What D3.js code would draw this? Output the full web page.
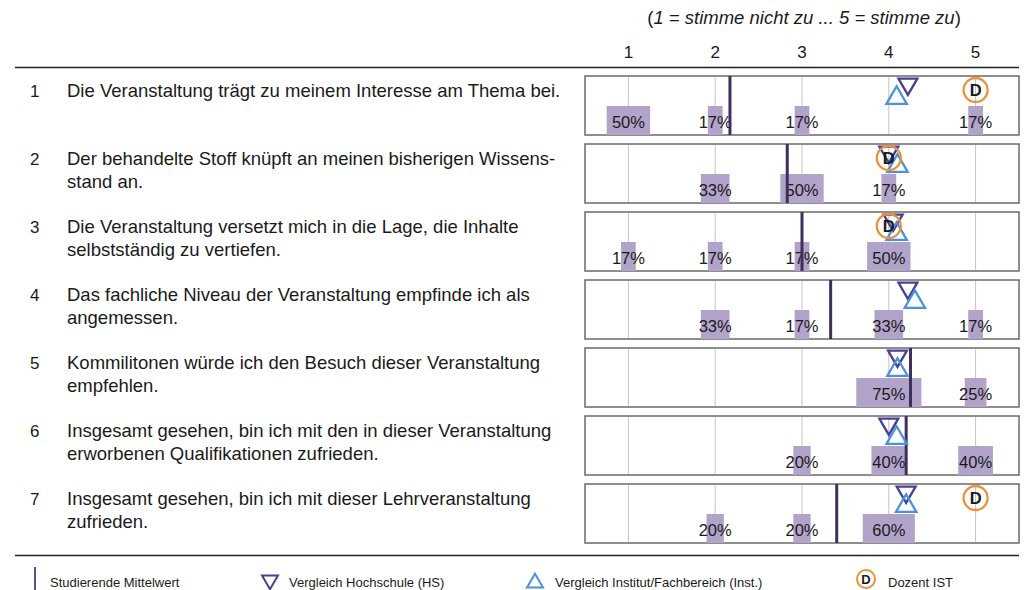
<!DOCTYPE html>
<html>
<head>
<meta charset="utf-8">
<script src="https://cdn.jsdelivr.net/npm/d3@7"></script>
<style>
  body { margin: 0; background: #fff; }
  text { font-family: "Liberation Sans", Arial, Helvetica, sans-serif; fill: #1a1a1a; }
</style>
</head>
<body>
<svg id="chart" width="1029" height="590"></svg>
<script>
// Fragen (jede Zeile = ein Item)
let fragen = [
    ["Die Veranstaltung trägt zu meinem Interesse am Thema bei."],
    ["Der behandelte Stoff knüpft an meinen bisherigen Wissens-", "stand an."],
    ["Die Veranstaltung versetzt mich in die Lage, die Inhalte", "selbstständig zu vertiefen."],
    ["Das fachliche Niveau der Veranstaltung empfinde ich als", "angemessen."],
    ["Kommilitonen würde ich den Besuch dieser Veranstaltung", "empfehlen."],
    ["Insgesamt gesehen, bin ich mit den in dieser Veranstaltung", "erworbenen Qualifikationen zufrieden."],
    ["Insgesamt gesehen, bin ich mit dieser Lehrveranstaltung", "zufrieden."]
];
let skala = [1, 2, 3, 4, 5]; // tick labels
// Verteilung in Prozent je Stufe 1..5
let prozente = [
    [50, 17, 17, 0, 17],
    [0, 33, 50, 17, 0],
    [17, 17, 17, 50, 0],
    [0, 33, 17, 33, 17],
    [0, 0, 0, 75, 25],
    [0, 0, 20, 40, 40],
    [0, 20, 20, 60, 0]
];
let mittelwert = [2.17, 2.83, 3.0, 3.33, 4.25, 4.2, 3.4];
let hochschule = [4.22, 4.0, 4.05, 4.22, 4.1, 4.0, 4.2];
let institut = [4.09, 4.1, 4.09, 4.3, 4.1, 4.09, 4.2];
let dozent = [5, 4.0, 4.0, null, null, null, 5];

let svg = d3.select("#chart");
let left = 585, right = 1019;
let top0 = 76, pitch = 68, panelH = 59;

let x = d3.scaleLinear().domain([0.5, 5.5]).range([left, right]);
let step = x(1) - x(0);

let cBar = "#b2a3ca", cMean = "#3e2f5c", cHS = "#4b3f8f", cInst = "#4a92dc", cDoz = "#ee8f3a";

// Kopf
let head = svg.append("text")
    .attr("x", 804).attr("y", 24)
    .attr("text-anchor", "middle")
    .style("font-size", "18.5px");
head.append("tspan").text("(");
head.append("tspan").style("font-style", "italic").text("1 = stimme nicht zu ... 5 = stimme zu");
head.append("tspan").text(")");

svg.selectAll(".tick-lbl")
    .data(skala)
    .enter()
    .append("text")
    .attr("class", "tick-lbl")
    .attr("x", d => x(d))
    .attr("y", 58)
    .attr("text-anchor", "middle")
    .style("font-size", "17px")
    .text(d => d);

svg.append("line")
    .attr("x1", 15).attr("x2", right)
    .attr("y1", 67.5).attr("y2", 67.5)
    .attr("stroke", "#222").attr("stroke-width", 1.3);

svg.append("line")
    .attr("x1", 15).attr("x2", right)
    .attr("y1", 555.5).attr("y2", 555.5)
    .attr("stroke", "#222").attr("stroke-width", 1.3);

let triUp = d3.symbol().type(d3.symbolTriangle).size(180);
let triDown = d3.symbol().type(d3.symbolTriangle).size(155);

fragen.forEach(function(lines, i) {
    let y0 = top0 + i * pitch;
    let g = svg.append("g");

    // Frage
    g.append("text")
        .attr("x", 30).attr("y", y0 + 21)
        .style("font-size", "17px")
        .text(i + 1);
    g.selectAll(".q")
        .data(lines)
        .enter()
        .append("text")
        .attr("class", "q")
        .attr("x", 67)
        .attr("y", (d, k) => y0 + 21 + k * 23)
        .style("font-size", "18.5px")
        .text(d => d);

    // Rahmen
    g.append("rect")
        .attr("x", left).attr("y", y0)
        .attr("width", right - left).attr("height", panelH)
        .attr("fill", "#fff")
        .attr("stroke", "#6a6a6a").attr("stroke-width", 1.5);

    // Gitter
    g.selectAll(".grid")
        .data(skala)
        .enter()
        .append("line")
        .attr("x1", d => x(d)).attr("x2", d => x(d))
        .attr("y1", y0 + 1).attr("y2", y0 + panelH - 1)
        .attr("stroke", "#c4c4c4").attr("stroke-width", 1);

    let bars = skala.map((s, k) => ({s: s, p: prozente[i][k]})).filter(d => d.p > 0);

    g.selectAll(".bar")
        .data(bars)
        .enter()
        .append("rect")
        .attr("x", d => x(d.s) - d.p / 100 * step / 2)
        .attr("y", y0 + panelH - 29)
        .attr("width", d => d.p / 100 * step)
        .attr("height", 29)
        .attr("fill", cBar);

    g.selectAll(".pct")
        .data(bars)
        .enter()
        .append("text")
        .attr("x", d => x(d.s))
        .attr("y", y0 + panelH - 7)
        .attr("text-anchor", "middle")
        .style("font-size", "16.5px")
        .text(d => d.p + "%");

    // Mittelwert
    g.append("line")
        .attr("x1", x(mittelwert[i])).attr("x2", x(mittelwert[i]))
        .attr("y1", y0).attr("y2", y0 + panelH)
        .attr("stroke", cMean).attr("stroke-width", 3);

    // Vergleich HS (Dreieck unten)
    g.append("path")
        .attr("d", triDown)
        .attr("transform", "translate(" + x(hochschule[i]) + "," + (y0 + 8) + ") rotate(180)")
        .attr("fill", "none").attr("stroke", cHS).attr("stroke-width", 2.3);

    // Vergleich Inst. (Dreieck oben)
    g.append("path")
        .attr("d", triUp)
        .attr("transform", "translate(" + x(institut[i]) + "," + (y0 + 22) + ")")
        .attr("fill", "none").attr("stroke", cInst).attr("stroke-width", 2.3);

    // Dozent
    if (dozent[i] != null) {
        g.append("circle")
            .attr("cx", x(dozent[i])).attr("cy", y0 + 14)
            .attr("r", 12)
            .attr("fill", "none").attr("stroke", cDoz).attr("stroke-width", 2.3);
        g.append("text")
            .attr("x", x(dozent[i])).attr("y", y0 + 20)
            .attr("text-anchor", "middle")
            .style("font-size", "16.5px").style("font-weight", "bold")
            .text("D");
    }
});

// Legende
let ly = 582;
svg.append("line")
    .attr("x1", 35).attr("x2", 35)
    .attr("y1", 567).attr("y2", 591)
    .attr("stroke", "#5e4f7e").attr("stroke-width", 2);
svg.append("path")
    .attr("d", d3.symbol().type(d3.symbolTriangle).size(110))
    .attr("transform", "translate(270," + (ly - 2) + ") rotate(180)")
    .attr("fill", "none").attr("stroke", cHS).attr("stroke-width", 2);
svg.append("path")
    .attr("d", d3.symbol().type(d3.symbolTriangle).size(110))
    .attr("transform", "translate(535," + (ly + 1) + ")")
    .attr("fill", "none").attr("stroke", cInst).attr("stroke-width", 2);
svg.append("circle")
    .attr("cx", 866).attr("cy", ly - 3).attr("r", 9)
    .attr("fill", "none").attr("stroke", cDoz).attr("stroke-width", 2);
svg.append("text")
    .attr("x", 866).attr("y", ly + 1.5)
    .attr("text-anchor", "middle")
    .style("font-size", "13px").style("font-weight", "bold")
    .text("D");

let legende = [
    {x: 50, t: "Studierende Mittelwert"},
    {x: 289, t: "Vergleich Hochschule (HS)"},
    {x: 555, t: "Vergleich Institut/Fachbereich (Inst.)"},
    {x: 888, t: "Dozent IST"}
];
svg.selectAll(".leg")
    .data(legende)
    .enter()
    .append("text")
    .attr("x", d => d.x)
    .attr("y", ly + 5)
    .style("font-size", "13px")
    .text(d => d.t);
</script>
</body>
</html>
